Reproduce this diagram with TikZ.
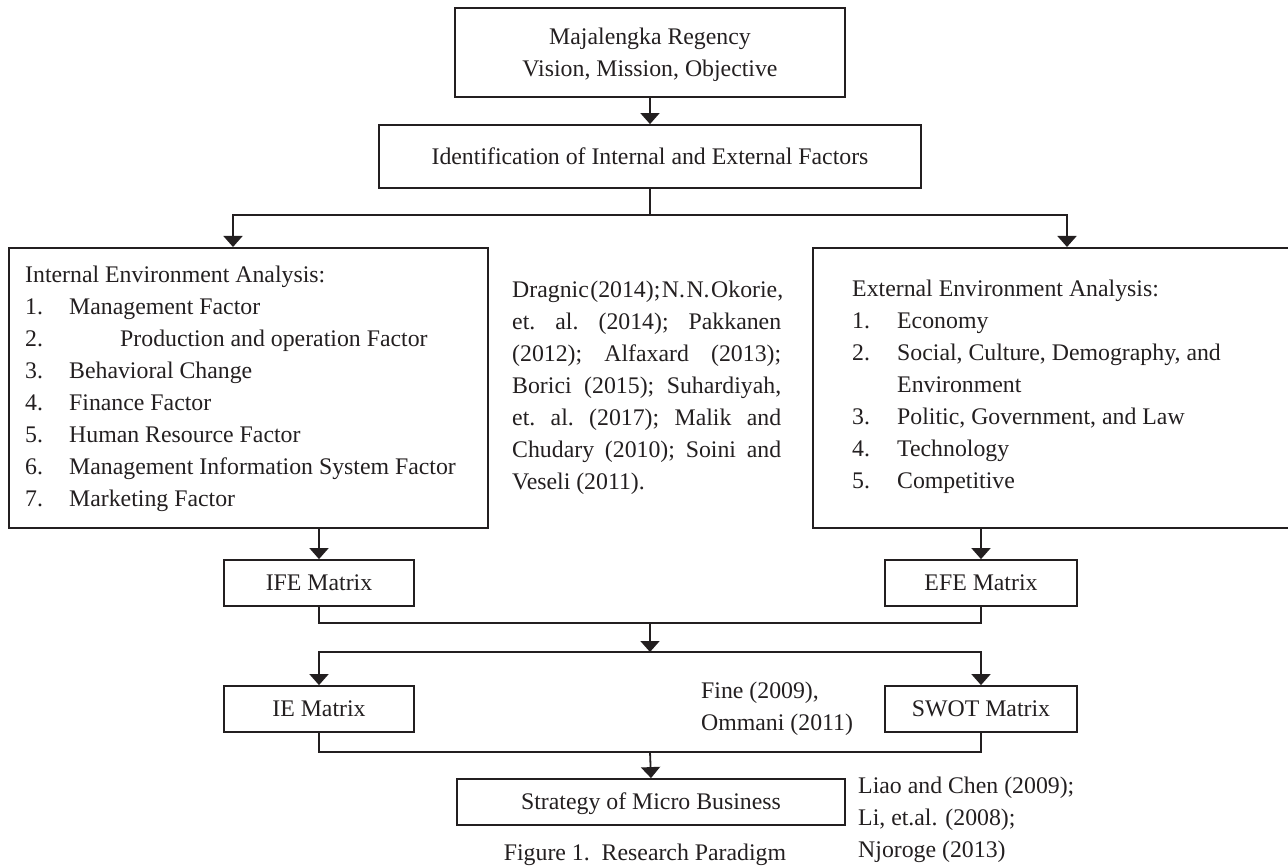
\documentclass[tikz,border=0pt]{standalone}
\usepackage{fontspec}
\setmainfont{Liberation Serif}
\usetikzlibrary{arrows.meta,calc}
\definecolor{ink}{HTML}{231F20}
\newcommand\fsz{\fontsize{23.8}{32}\selectfont}
\newcommand\jl[1]{\hbox to 269pt{\frenchspacing\spaceskip=1.5pt plus 1fil\relax #1}}
\newcommand\itm[2]{\makebox[#1][l]{#2}}
\begin{document}
\begin{tikzpicture}[x=1pt,y=-1pt,
  every node/.style={font=\fsz, text=ink},
  box/.style={draw=ink, line width=1.8pt, inner sep=0pt, rectangle},
  onebox/.style={box, text height=15.7pt, text depth=0pt},
  txt/.style={inner sep=0pt, anchor=base west},
  conn/.style={draw=ink, line width=1.8pt},
  arr/.style={conn, -{Triangle[width=19pt,length=11pt]}}]
\useasboundingbox (0,0) rectangle (1288,866);
% boxes
\node[box, minimum width=390pt, minimum height=89pt, align=center, text depth=0pt] (top) at (650,52.5)
  {Majalengka Regency\\Vision, Mission, Objective};
\node[onebox, minimum width=542pt, minimum height=63pt] (ident) at (650,156.5)
  {Identification of Internal and External Factors};
\node[box, minimum width=479pt, minimum height=280pt, anchor=north west] (inbox) at (8,247) {};
\node[box, minimum width=510pt, minimum height=280pt, anchor=north west] (exbox) at (812,247) {};
\node[onebox, minimum width=190pt, minimum height=46pt] (ife) at (319,583) {IFE Matrix};
\node[onebox, minimum width=192pt, minimum height=46pt] (efe) at (981,583) {EFE Matrix};
\node[onebox, minimum width=190pt, minimum height=46pt] (ie) at (319,709) {IE Matrix};
\node[onebox, minimum width=192pt, minimum height=46pt] (swot) at (981,709) {SWOT Matrix};
\node[onebox, minimum width=388pt, minimum height=46pt] (strat) at (651,802) {Strategy of Micro Business};
% texts
\node[txt] (inlist) at (25,283) {\begin{tabular}[t]{@{}l@{}}
Internal Environment Analysis:\\
\itm{44pt}{1.}Management Factor\\
\itm{95pt}{2.}Production and operation Factor\\
\itm{44pt}{3.}Behavioral Change\\
\itm{44pt}{4.}Finance Factor\\
\itm{44pt}{5.}Human Resource Factor\\
\itm{44pt}{6.}Management Information System Factor\\
\itm{44pt}{7.}Marketing Factor
\end{tabular}};
\node[txt] (exlist) at (852,297) {\begin{tabular}[t]{@{}l@{}}
External Environment Analysis:\\
\itm{45pt}{1.}Economy\\
\itm{45pt}{2.}Social, Culture, Demography, and\\
\itm{45pt}{}Environment\\
\itm{45pt}{3.}Politic, Government, and Law\\
\itm{45pt}{4.}Technology\\
\itm{45pt}{5.}Competitive
\end{tabular}};
\node[txt] (refs1) at (512,298) {\begin{tabular}[t]{@{}l@{}}
\jl{Dragnic (2014); N. N. Okorie,}\\
\jl{et. al. (2014); Pakkanen}\\
\jl{(2012); Alfaxard (2013);}\\
\jl{Borici (2015); Suhardiyah,}\\
\jl{et. al. (2017); Malik and}\\
\jl{Chudary (2010); Soini and}\\
Veseli (2011).
\end{tabular}};
\node[txt] (refs2) at (701,698) {\begin{tabular}[t]{@{}l@{}}
Fine (2009),\\
Ommani (2011)
\end{tabular}};
\node[txt] (refs3) at (858,793) {\begin{tabular}[t]{@{}l@{}}
Liao and Chen (2009);\\
Li, et.al. (2008);\\
Njoroge (2013)
\end{tabular}};
\node[inner sep=0pt, anchor=base] (cap) at (645,860) {Figure 1.\ \ Research Paradigm};
% connectors
\coordinate (j1) at (650,215);
\coordinate (j2) at (650,623);
\coordinate (j3) at (650,652);
\coordinate (j4) at (650,752);
\draw[arr] (top.south) -- (ident.north);
\draw[conn] (ident.south) -- (j1);
\draw[arr] (j1) -| ([xshift=225pt]inbox.north west);
\draw[arr] (j1) -| ([xshift=255pt]exbox.north west);
\draw[arr] (inbox.south -| ife.north) -- (ife.north);
\draw[arr] (exbox.south -| efe.north) -- (efe.north);
\draw[conn] (ife.south) |- (j2) -| (efe.south);
\draw[arr] (j2) -- (j3);
\draw[arr] (j3) -| (ie.north);
\draw[arr] (j3) -| (swot.north);
\draw[conn] (ie.south) |- (j4) -| (swot.south);
\draw[arr] (j4) -- (strat.north);
\end{tikzpicture}
\end{document}
